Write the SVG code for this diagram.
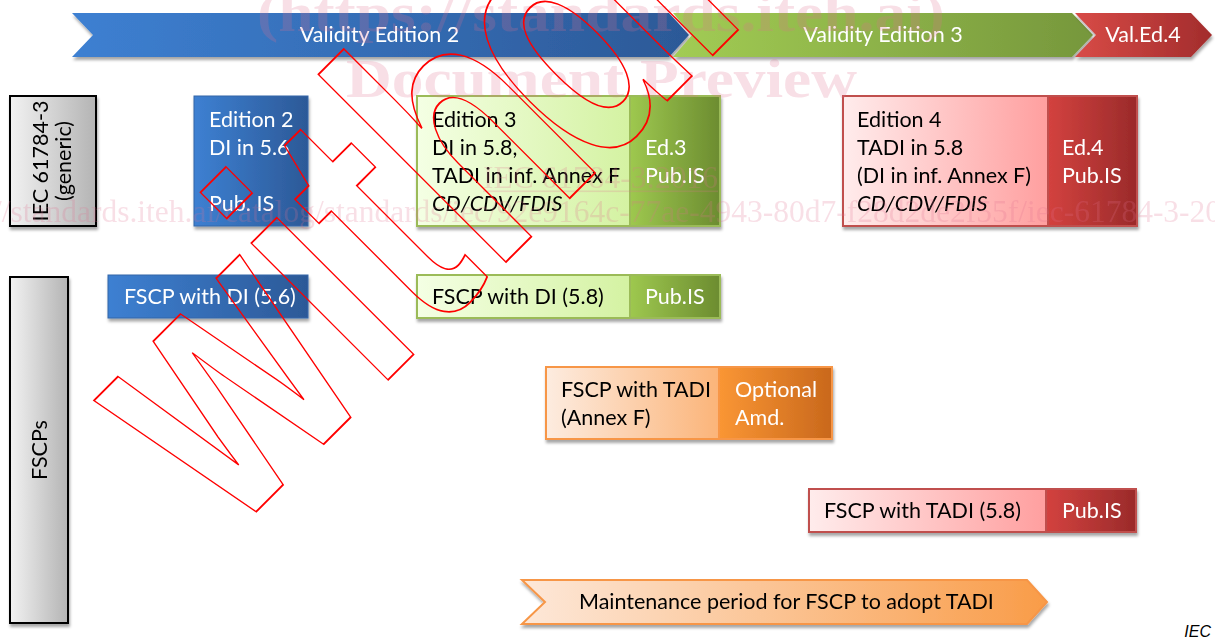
<svg xmlns="http://www.w3.org/2000/svg" width="1215" height="639" viewBox="0 0 1215 639">
<defs>
<style>
.t{font-family:Lato,"Liberation Sans",sans-serif;font-size:21.5px}
.w{fill:#ffffff}
.k{fill:#000000}
.it{font-style:italic}
.pk{fill:#e07090;opacity:0.22}
.bs{font-family:"Liberation Serif",serif;font-weight:bold;font-size:54.5px}
.rs{font-family:"Liberation Serif",serif;font-size:31.5px}
.sh{filter:url(#sh)}
</style>
<filter id="sh" x="-10%" y="-10%" width="130%" height="150%">
<feDropShadow dx="1" dy="3" stdDeviation="1.6" flood-color="#000" flood-opacity="0.35"/>
</filter>
<linearGradient id="gBlue" x1="0" y1="0" x2="1" y2="0"><stop offset="0" stop-color="#3d80d2"/><stop offset="1" stop-color="#2c5997"/></linearGradient>
<linearGradient id="gGreenBar" x1="0" y1="0" x2="1" y2="0"><stop offset="0" stop-color="#a2cc54"/><stop offset="1" stop-color="#76973c"/></linearGradient>
<linearGradient id="gRedBar" x1="0" y1="0" x2="1" y2="0"><stop offset="0" stop-color="#d84b47"/><stop offset="1" stop-color="#a22c2c"/></linearGradient>
<linearGradient id="gGray" x1="0" y1="0" x2="1" y2="0"><stop offset="0" stop-color="#f2f2f2"/><stop offset="1" stop-color="#b4b4b4"/></linearGradient>
<linearGradient id="gLGreen" x1="0" y1="0" x2="1" y2="0"><stop offset="0" stop-color="#f4ffe4"/><stop offset="1" stop-color="#d4f2a2"/></linearGradient>
<linearGradient id="gDGreen" x1="0" y1="0" x2="1" y2="0"><stop offset="0" stop-color="#9ec84f"/><stop offset="1" stop-color="#6c8c30"/></linearGradient>
<linearGradient id="gPink" x1="0" y1="0" x2="1" y2="0"><stop offset="0" stop-color="#ffecec"/><stop offset="1" stop-color="#ff9f9f"/></linearGradient>
<linearGradient id="gDRed" x1="0" y1="0" x2="1" y2="0"><stop offset="0" stop-color="#d3423f"/><stop offset="1" stop-color="#9a2a2a"/></linearGradient>
<linearGradient id="gPeach" x1="0" y1="0" x2="1" y2="0"><stop offset="0" stop-color="#fdece0"/><stop offset="1" stop-color="#fbb479"/></linearGradient>
<linearGradient id="gOrange" x1="0" y1="0" x2="1" y2="0"><stop offset="0" stop-color="#fa9634"/><stop offset="1" stop-color="#c9681c"/></linearGradient>
<linearGradient id="gMaint" x1="0" y1="0" x2="1" y2="0"><stop offset="0" stop-color="#fde8d9"/><stop offset="1" stop-color="#f99c48"/></linearGradient>
</defs>
<rect width="1215" height="639" fill="#ffffff"/>

<g id="bar-validity-ed2" class="sh">
<path d="M72,13 H669 L689,35 L669,57 H72 L93,35 Z" fill="url(#gBlue)"/>
<text class="t w" x="379.5" y="42" text-anchor="middle">Validity Edition 2</text>
</g>
<g id="bar-validity-ed3" class="sh">
<path d="M673,13 H1072 L1093,35 L1072,57 H673 L692,35 Z" fill="url(#gGreenBar)"/>
<text class="t w" x="883" y="42" text-anchor="middle">Validity Edition 3</text>
</g>
<g id="bar-validity-ed4" class="sh">
<path d="M1075,13 H1191 L1212,35 L1191,57 H1075 L1096,35 Z" fill="url(#gRedBar)"/>
<text class="t w" x="1143" y="42" text-anchor="middle">Val.Ed.4</text>
</g>

<g id="node-iec-generic" class="sh">
<rect x="10" y="96" width="86" height="130" fill="url(#gGray)" stroke="#000" stroke-width="2"/>
<text class="t k" transform="rotate(-90,53,161)" x="53" y="156" text-anchor="middle">IEC 61784-3</text>
<text class="t k" transform="rotate(-90,53,161)" x="53" y="179" text-anchor="middle">(generic)</text>
</g>

<g id="node-fscps" class="sh">
<rect x="10" y="277" width="58" height="346" fill="url(#gGray)" stroke="#000" stroke-width="2"/>
<text class="t k" transform="rotate(-90,39,450)" x="39" y="458" text-anchor="middle">FSCPs</text>
</g>

<g id="node-edition2" class="sh">
<rect x="194" y="96" width="114" height="130" fill="url(#gBlue)" stroke="#3466a8" stroke-width="1"/>
<text class="t w" x="209" y="126.5">Edition 2</text>
<text class="t w" x="209" y="154.5">DI in 5.6</text>
<text class="t w" x="209" y="210.5">Pub. IS</text>
</g>

<g id="node-edition3" class="sh">
<rect x="417" y="96" width="213" height="130" fill="url(#gLGreen)" stroke="#9bbb59" stroke-width="2"/>
<rect x="630" y="96" width="90" height="130" fill="url(#gDGreen)" stroke="#9bbb59" stroke-width="2"/>
<text class="t k" x="432" y="126.5">Edition 3</text>
<text class="t k" x="432" y="154.5">DI in 5.8,</text>
<text class="t k" x="432" y="182.5">TADI in inf. Annex F</text>
<text class="t k it" x="432" y="210.5">CD/CDV/FDIS</text>
<text class="t w" x="645" y="154.5">Ed.3</text>
<text class="t w" x="645" y="182.5">Pub.IS</text>
</g>

<g id="node-edition4" class="sh">
<rect x="843" y="96" width="205" height="130" fill="url(#gPink)" stroke="#c0504d" stroke-width="2"/>
<rect x="1048" y="96" width="89" height="130" fill="url(#gDRed)" stroke="#c0504d" stroke-width="2"/>
<text class="t k" x="857" y="126.5">Edition 4</text>
<text class="t k" x="857" y="154.5">TADI in 5.8</text>
<text class="t k" x="857" y="182.5">(DI in inf. Annex F)</text>
<text class="t k it" x="857" y="210.5">CD/CDV/FDIS</text>
<text class="t w" x="1062" y="154.5">Ed.4</text>
<text class="t w" x="1062" y="182.5">Pub.IS</text>
</g>

<g id="node-fscp-di-56" class="sh">
<rect x="108" y="275" width="200" height="43" fill="url(#gBlue)" stroke="#3466a8" stroke-width="1"/>
<text class="t w" x="124" y="303.5">FSCP with DI (5.6)</text>
</g>

<g id="node-fscp-di-58" class="sh">
<rect x="417" y="275" width="213" height="43" fill="url(#gLGreen)" stroke="#9bbb59" stroke-width="2"/>
<rect x="630" y="275" width="90" height="43" fill="url(#gDGreen)" stroke="#9bbb59" stroke-width="2"/>
<text class="t k" x="432" y="303.5">FSCP with DI (5.8)</text>
<text class="t w" x="645" y="303.5">Pub.IS</text>
</g>

<g id="node-fscp-tadi-annexf" class="sh">
<rect x="546" y="367" width="173" height="72" fill="url(#gPeach)" stroke="#f79646" stroke-width="2"/>
<rect x="719" y="367" width="113" height="72" fill="url(#gOrange)" stroke="#f79646" stroke-width="2"/>
<text class="t k" x="561" y="397">FSCP with TADI</text>
<text class="t k" x="561" y="425">(Annex F)</text>
<text class="t w" x="735" y="397">Optional</text>
<text class="t w" x="735" y="425">Amd.</text>
</g>

<g id="node-fscp-tadi-58" class="sh">
<rect x="809" y="489" width="237" height="43" fill="url(#gPink)" stroke="#c0504d" stroke-width="2"/>
<rect x="1046" y="489" width="90" height="43" fill="url(#gDRed)" stroke="#c0504d" stroke-width="2"/>
<text class="t k" x="824" y="517.5">FSCP with TADI (5.8)</text>
<text class="t w" x="1062" y="517.5">Pub.IS</text>
</g>

<g id="node-maintenance" class="sh">
<path d="M522,580 H1027 L1047,602 L1027,624 H522 L545,602 Z" fill="url(#gMaint)" stroke="#f79646" stroke-width="2"/>
<text class="t k" x="579" y="609">Maintenance period for FSCP to adopt TADI</text>
</g>

<g id="connectors"/>

<text id="label-iec" x="1211" y="637" text-anchor="end" font-family="Liberation Sans, Arial, sans-serif" font-style="italic" font-size="16" fill="#000">IEC</text>

<g id="watermark">
<text class="bs pk" x="257" y="31" textLength="688" lengthAdjust="spacingAndGlyphs">(https://standards.iteh.ai)</text>
<text class="bs pk" x="346" y="97" textLength="511" lengthAdjust="spacingAndGlyphs">Document Preview</text>
<text class="rs pk" x="483" y="188" textLength="235" lengthAdjust="spacingAndGlyphs">IEC 61784-3:2016</text>
<rect class="pk" x="483" y="190.5" width="235" height="1.6"/>
<text class="rs pk" x="-77" y="222">https://standards.iteh.ai/catalog/standards/iec/92e9164c-77ae-4943-80d7-f28d2de2f55f/iec-61784-3-2016</text>
<text transform="rotate(-45) scale(0.72,1)" x="-300 -17.6 89.3 213.9 405.6 620" y="543" font-family="Liberation Sans, Arial, sans-serif" font-weight="bold" font-size="366" fill="none" stroke="#ff0000" stroke-width="1.6" vector-effect="non-scaling-stroke">withdrawn</text>
</g>
</svg>
